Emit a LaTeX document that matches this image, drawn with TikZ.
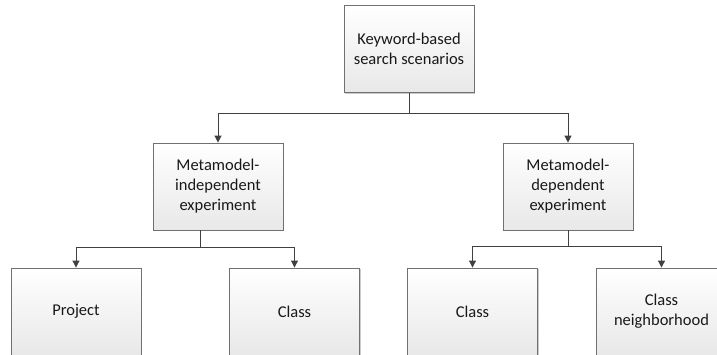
\documentclass[tikz,border=0pt]{standalone}
\usepackage{fontspec}
\setmainfont{Carlito}
\usetikzlibrary{arrows.meta,shadows,calc}
\definecolor{edgegray}{HTML}{707070}
\definecolor{linegray}{HTML}{404040}
\definecolor{botgray}{HTML}{E8E8E8}
\begin{document}
\begin{tikzpicture}[x=1pt,y=1pt,
  box/.style={draw=edgegray, line width=0.9pt, top color=white, bottom color=botgray,
    minimum width=130pt, minimum height=87pt, align=center, inner sep=0pt,
    font=\fontsize{16.5}{20}\selectfont, text=black!90,
    drop shadow={shadow xshift=1.2pt, shadow yshift=-1.2pt, fill=black!35, opacity=0.6}},
  conn/.style={draw=linegray, line width=1pt},
  arr/.style={conn, -{Triangle[length=7pt,width=7pt]}}]
\useasboundingbox (0,0) rectangle (717,-354);
\begin{scope}
\clip (0,0) rectangle (717,-354);
\node[box] (top) at (409,-49) {Keyword-based\\search scenarios};
\node[box] (midL) at (218,-186.5) {Metamodel-\\independent\\experiment};
\node[box] (midR) at (568,-186.5) {Metamodel-\\dependent\\experiment};
\node[box] (proj) at (76,-311.5) {Project};
\node[box] (clsA) at (294.5,-311.5) {Class};
\node[box] (clsB) at (472.5,-311.5) {Class};
\node[box] (clsN) at (661.5,-311.5) {Class\\neighborhood};

\coordinate (jt) at ($(top.south)+(0,-21)$);
\draw[conn] (top.south) -- (jt);
\draw[arr] (jt) -| (midL.north);
\draw[arr] (jt) -| (midR.north);

\coordinate (sL) at ($(midL.south)+(-18,0)$);
\coordinate (jl) at ($(sL)+(0,-17.5)$);
\draw[conn] (sL) -- (jl);
\draw[arr] (jl) -| (proj.north);
\draw[arr] (jl) -| (clsA.north);

\coordinate (jr) at ($(midR.south)+(0,-16)$);
\draw[conn] (midR.south) -- (jr);
\draw[arr] (jr) -| (clsB.north);
\draw[arr] (jr) -| (clsN.north);
\end{scope}
\end{tikzpicture}
\end{document}
